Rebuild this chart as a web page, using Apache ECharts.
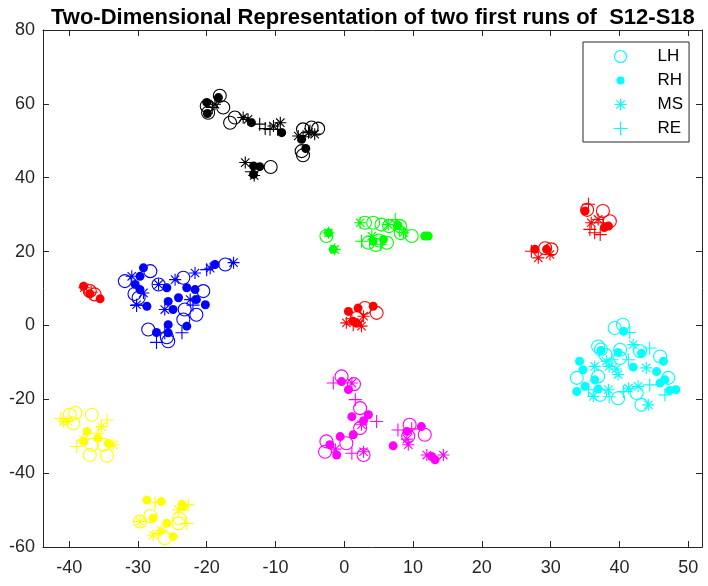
<!DOCTYPE html>
<html>
<head>
<meta charset="utf-8">
<script src="https://cdn.jsdelivr.net/npm/echarts@6/dist/echarts.min.js"></script>
<style>
  html, body { margin: 0; padding: 0; background: #fff; }
  #chart { width: 708px; height: 586px; }
</style>
</head>
<body>
<div id="chart"></div>
<script>
// tick labels
const xTicks = [-40, -30, -20, -10, 0, 10, 20, 30, 40, 50]
const yTicks = [-60, -40, -20, 0, 20, 40, 60, 80]
const markerNames = ['LH', 'RH', 'MS', 'RE']

// cyan
const cyanLH = [[39.3, -0.7], [40.5, 0.2], [36.9, -5.7], [37.3, -6.5], [40.1, -6.6], [43.0, -7.0], [45.9, -8.4], [33.8, -14.2], [36.9, -13.8], [47.1, -14.2], [37.2, -18.8], [39.8, -19.7], [42.5, -18.3], [43.2, -21.5], [40.1, -8.8], [38.0, -8.0]]
const cyanRH = [[40.6, -1.6], [34.2, -9.7], [34.7, -12.0], [33.8, -17.9], [35.0, -16.5], [37.3, -6.8], [39.8, -7.3], [43.2, -7.5], [42.0, -11.3], [46.4, -9.7], [45.4, -12.5], [46.6, -14.7], [45.9, -15.6], [47.3, -17.6], [48.2, -17.4], [36.4, -14.7], [36.9, -17.2]]
const cyanMS = [[36.4, -11.1], [38.1, -9.7], [39.8, -13.3], [38.5, -11.1], [42.0, -5.2], [43.9, -11.5], [36.2, -19.2], [38.4, -17.4], [41.3, -17.0], [42.7, -16.5], [44.2, -21.5], [39.5, -11.8]]
const cyanRE = [[41.5, -1.9], [38.9, -9.3], [41.3, -9.3], [44.4, -6.1], [35.5, -17.4], [40.6, -17.9], [44.4, -16.1], [46.6, -18.8], [38.5, -19.3]]

// red
const redLH = [[-37.0, 9.3], [-36.3, 8.4], [3.0, 4.7], [4.7, 3.4], [1.8, 2.0], [30.1, 20.6], [29.2, 20.9], [37.6, 31.0], [38.6, 28.2], [35.3, 31.3]]
const redRH = [[-37.9, 10.6], [-37.0, 8.6], [-35.5, 7.2], [0.6, 3.8], [2.0, 4.7], [4.2, 5.2], [1.3, 1.1], [1.8, 0.6], [27.7, 20.6], [29.4, 20.6], [35.0, 31.0], [38.4, 26.9], [37.8, 26.5]]
const redMS = [[-37.8, 10.2], [0.3, 0.7], [2.5, -0.2], [2.8, 2.5], [28.2, 18.3], [29.9, 19.2], [35.9, 27.8], [36.9, 28.7]]
const redRE = [[-36.8, 9.0], [1.3, 0.2], [1.1, 1.8], [27.2, 20.1], [35.5, 32.8], [36.4, 25.1], [35.7, 26.0], [37.2, 24.6], [37.6, 27.8]]

// black
const blackLH = [[-20.0, 59.4], [-17.6, 59.0], [-19.8, 57.6], [-18.1, 62.2], [-16.6, 54.9], [-15.9, 56.3], [-6.0, 53.1], [-4.75, 53.6], [-3.8, 53.3], [-6.2, 47.2], [-6.0, 46.1], [-10.7, 42.9]]
const blackRH = [[-20.0, 60.4], [-18.3, 61.7], [-19.9, 57.4], [-13.5, 54.9], [-9.1, 52.2], [-6.2, 50.4], [-5.6, 47.9], [-13.2, 43.2], [-12.3, 43.0], [-13.2, 40.9]]
const blackMS = [[-18.8, 59.9], [-14.7, 56.3], [-14.0, 55.8], [-10.3, 54.0], [-9.3, 54.9], [-6.7, 51.3], [-5.2, 52.2], [-4.3, 51.8], [-14.4, 44.1], [-13.1, 40.6]]
const blackRE = [[-12.3, 54.5], [-11.5, 53.3], [-10.8, 53.1], [-9.7, 53.1], [-6.0, 51.1], [-5.0, 52.6], [-13.5, 41.6], [-19.2, 59.0]]

// green
const greenLH = [[-2.6, 24.2], [3.0, 27.8], [4.2, 27.8], [5.4, 27.3], [6.5, 26.9], [8.1, 26.9], [3.5, 22.4], [6.2, 22.4], [5.0, 23.0], [9.8, 24.2], [8.2, 25.0], [4.6, 21.8]]
const greenRH = [[-2.3, 25.1], [-1.6, 20.6], [7.8, 27.1], [4.2, 22.8], [5.7, 23.3], [11.7, 24.2], [12.2, 24.2]]
const greenMS = [[-2.3, 25.1], [-1.4, 20.6], [2.3, 27.8], [6.4, 27.3], [4.0, 24.2], [8.6, 25.1]]
const greenRE = [[7.4, 28.7], [2.5, 22.8], [5.3, 22.0], [8.0, 26.0]]

// blue
const blueLH = [[-28.2, 14.7], [-31.9, 12.0], [-29.9, 7.5], [-27.0, 11.1], [-23.4, 12.9], [-20.5, 9.3], [-23.4, 1.6], [-21.5, 2.9], [-28.5, -1.1], [-25.6, -4.3], [-17.3, 16.5], [-23.2, 4.3], [-25.8, -3.2], [-30.5, 8.5]]
const blueRH = [[-29.2, 15.6], [-29.7, 13.3], [-30.4, 11.1], [-29.7, 9.7], [-28.7, 5.2], [-25.8, 10.2], [-24.1, 7.5], [-25.6, 6.5], [-24.9, 4.3], [-22.9, 10.2], [-21.7, 9.7], [-21.5, 7.0], [-20.2, 5.6], [-22.9, -0.2], [-25.6, 0.2], [-27.3, -1.9], [-18.8, 16.5], [-25.6, -2.0]]
const blueMS = [[-30.9, 13.3], [-29.2, 8.8], [-30.2, 5.6], [-24.6, 12.4], [-21.7, 14.2], [-16.1, 17.0], [-26.1, 4.3], [-22.4, 7.0], [-27.0, 11.1], [-19.5, 15.5]]
const blueRE = [[-30.2, 5.4], [-26.1, -2.0], [-23.6, -2.0], [-20.0, 15.1], [-27.3, -4.6], [-22.0, 5.5]]

// yellow
const yellowLH = [[-39.1, -23.7], [-36.7, -24.2], [-39.4, -26.5], [-37.0, -35.1], [-34.5, -35.3], [-35.0, -32.3], [-36.7, -32.3], [-39.9, -24.2], [-29.7, -53.1], [-28.2, -51.6], [-26.1, -57.6], [-24.1, -53.6], [-24.0, -52.3]]
const yellowRH = [[-37.4, -28.7], [-37.9, -31.4], [-34.3, -31.9], [-35.8, -30.5], [-28.7, -47.3], [-26.6, -47.7], [-27.8, -52.2], [-25.8, -53.6], [-24.9, -57.2], [-23.4, -49.1], [-23.6, -48.4]]
const yellowMS = [[-40.8, -26.0], [-40.2, -26.0], [-33.6, -32.3], [-35.3, -27.4], [-37.9, -31.0], [-29.7, -53.1], [-27.8, -56.8], [-24.1, -49.9], [-26.6, -55.5]]
const yellowRE = [[-34.5, -25.6], [-38.9, -32.8], [-35.8, -29.2], [-41.2, -25.2], [-22.7, -48.6], [-22.9, -53.6], [-27.0, -56.3], [-27.5, -48.0]]

// magenta
const magentaLH = [[-0.4, -13.8], [1.4, -15.9], [2.3, -22.4], [2.3, -27.8], [-2.6, -31.4], [-2.8, -34.2], [0.3, -31.9], [2.8, -35.1], [9.5, -26.9], [11.7, -29.6], [9.3, -30.0]]
const magentaRH = [[-0.4, -15.2], [0.6, -17.4], [1.1, -24.7], [3.5, -24.2], [2.8, -25.8], [1.3, -29.6], [-0.6, -30.1], [-2.1, -32.3], [-1.1, -35.1], [9.1, -28.7], [11.2, -27.4], [7.1, -32.6], [12.7, -35.5], [13.2, -36.4]]
const magentaMS = [[1.1, -15.6], [2.5, -26.9], [2.8, -34.2], [-1.3, -33.5], [9.3, -32.3], [9.1, -30.8], [12.0, -35.1], [14.4, -35.1]]
const magentaRE = [[-1.6, -15.6], [1.6, -20.1], [4.7, -26.0], [1.1, -34.6], [7.8, -28.3], [9.8, -28.0]]

const groups = [
  ['#00ffff', cyanLH, cyanRH, cyanMS, cyanRE],
  ['#ff0000', redLH, redRH, redMS, redRE],
  ['#000000', blackLH, blackRH, blackMS, blackRE],
  ['#00ff00', greenLH, greenRH, greenMS, greenRE],
  ['#0000ff', blueLH, blueRH, blueMS, blueRE],
  ['#ffff00', yellowLH, yellowRH, yellowMS, yellowRE],
  ['#ff00ff', magentaLH, magentaRH, magentaMS, magentaRE]
]

const axisColor = '#262626'
const font = 'Liberation Sans, Arial, sans-serif'

const asterisk = 'path://M0,-6L0,6M-6,0L6,0M-4.2,-4.2L4.2,4.2M-4.2,4.2L4.2,-4.2'
const plus = 'path://M0,-6L0,6M-6,0L6,0'
const symbols = ['circle', 'circle', asterisk, plus]
const sizes = [13, 9, 12, 13]

// legend icons padded to the 14px box
const legendIcons = [
  'path://M-7,-7M7,7M-6,0A6,6,0,1,1,6,0A6,6,0,1,1,-6,0Z',
  'path://M-7,-7M7,7M-4,0A4,4,0,1,1,4,0A4,4,0,1,1,-4,0Z',
  'path://M-7,-7M7,7M0,-6L0,6M-6,0L6,0M-4.2,-4.2L4.2,4.2M-4.2,4.2L4.2,-4.2',
  'path://M-7,-7M7,7M0,-7L0,7M-7,0L7,0'
]

function markStyle (k, color) {
  if (k === 1) return { color: color, borderWidth: 0, opacity: 1 }
  return { color: 'transparent', borderColor: color, borderWidth: 1.1, opacity: 1 }
}

let series = []
groups.forEach((g) => {
  const color = g[0]
  for (let k = 0; k < 4; k++) {
    series.push({
      type: 'scatter',
      name: markerNames[k],
      data: g[k + 1],
      symbol: symbols[k],
      symbolSize: sizes[k],
      itemStyle: markStyle(k, color),
      silent: true
    })
  }
})

function axisBase (pos, showLabel) {
  return {
    type: 'value',
    position: pos,
    axisLine: { show: true, onZero: false, lineStyle: { color: axisColor, width: 1 } },
    splitLine: { show: false },
    axisTick: { show: true, inside: true, length: 6, lineStyle: { color: axisColor } },
    axisLabel: { show: showLabel, color: axisColor, fontSize: 18, fontFamily: font }
  }
}

let xBottom = axisBase('bottom', true)
xBottom.min = -43.8
xBottom.max = 52
xBottom.axisTick.customValues = xTicks
xBottom.axisLabel.customValues = xTicks
xBottom.axisLabel.margin = 12
let xTop = axisBase('top', false)
xTop.min = -43.8
xTop.max = 52
xTop.axisTick.customValues = xTicks

let yLeft = axisBase('left', true)
yLeft.min = yTicks[0]
yLeft.max = yTicks[yTicks.length - 1]
yLeft.interval = 20
yLeft.axisLabel.margin = 8
let yRight = axisBase('right', false)
yRight.min = yTicks[0]
yRight.max = yTicks[yTicks.length - 1]
yRight.interval = 20

const option = {
  animation: false,
  backgroundColor: '#fff',
  title: {
    text: 'Two-Dimensional Representation of two first runs of  S12-S18',
    left: 46,
    top: 2,
    textStyle: { fontSize: 22, fontWeight: 'bold', color: '#000', fontFamily: font }
  },
  grid: { left: 43, right: 6, top: 30, bottom: 39, containLabel: false },
  legend: {
    orient: 'vertical',
    left: 583,
    top: 42,
    padding: [6, 6, 5, 30],
    itemGap: 7,
    itemWidth: 14,
    itemHeight: 14,
    borderColor: axisColor,
    borderWidth: 1,
    backgroundColor: '#fff',
    textStyle: { fontSize: 17, color: '#000', fontFamily: font, padding: [0, 0, 0, 25] },
    data: markerNames.map((n, k) => ({
      name: n,
      icon: legendIcons[k],
      itemStyle: k === 1
        ? { color: '#00ffff', borderWidth: 0, opacity: 1 }
        : { color: 'transparent', borderColor: '#00ffff', borderWidth: 1.1, opacity: 1 }
    }))
  },
  xAxis: [xBottom, xTop],
  yAxis: [yLeft, yRight],
  series: series
}

const myChart = echarts.init(document.getElementById('chart'))
myChart.setOption(option)
</script>
</body>
</html>
